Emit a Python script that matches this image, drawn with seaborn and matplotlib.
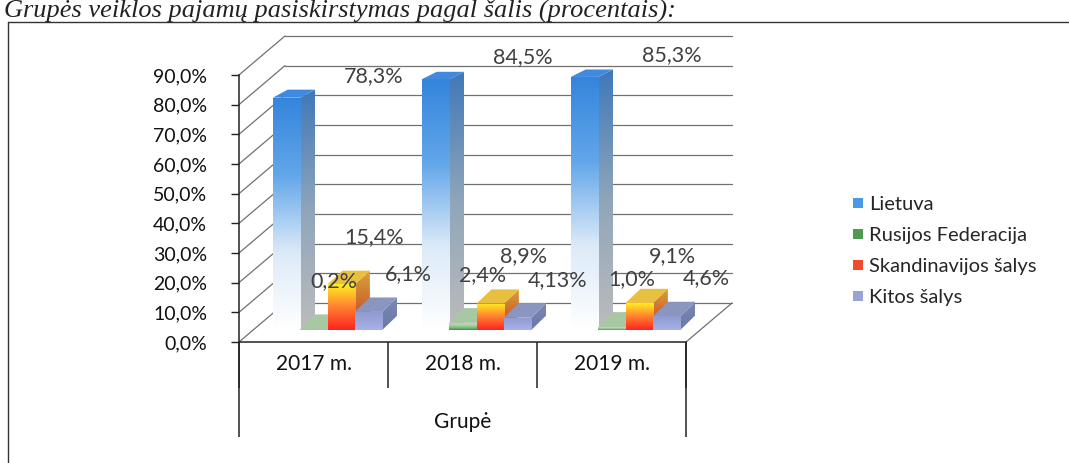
import numpy as np
import pandas as pd
import matplotlib
matplotlib.use('Agg')
import matplotlib.pyplot as plt
from matplotlib.colors import LinearSegmentedColormap
from matplotlib.patches import Polygon, Patch
from matplotlib.lines import Line2D
from matplotlib.ticker import FuncFormatter
import seaborn as sns


TITLE = 'Grupės veiklos pajamų pasiskirstymas pagal šalis (procentais):'
GROUP_LABEL = 'Grupė'
YEARS = ['2017 m.', '2018 m.', '2019 m.']
COUNTRIES = ['Lietuva', 'Rusijos Federacija', 'Skandinavijos šalys', 'Kitos šalys']
LIETUVA = [78.3, 84.5, 85.3]
RUSIJA = [0.2, 2.4, 1.0]
SKANDINAVIJA = [15.4, 8.9, 9.1]
KITOS = [6.1, 4.13, 4.6]
Y_TICKS = [0, 10, 20, 30, 40, 50, 60, 70, 80, 90]

# look of each series: front gradient (bottom -> top), side gradient, top colour, legend colour
FRONT = [['#ffffff', '#dceaf8', '#62a6ea', '#3385dc'],
         ['#2f9a3a', '#86bf86', '#b9cfb3', '#c3d6bd'],
         ['#ff2222', '#ff8030', '#ffee22'],
         ['#a8b0e8', '#8e9ad0']]
SIDE = [['#bcbcbc', '#8fa5ba', '#3f78b8'],
        ['#9ab896', '#a6c2a2'],
        ['#c43a2a', '#d8a438'],
        ['#6a78a8', '#7888b2']]
TOP = ['#3f8ae0', '#a8c8a4', '#e8c040', '#8a96c0']
LEGEND_COLORS = ['#4a98e8', '#4e9a50', '#f24a2a', '#9aa2d6']
LABEL_OFFSETS = [(87, 22), (20, 48), (33, 47), (40, 38)]  # px from bar top

W_PX, H_PX = 1069, 463
PX_X = 149.0      # pixels per category
PX_Y = 2.967      # pixels per percent


def fmt_value(v):
    s = f'{v:.2f}'.rstrip('0')
    if s.endswith('.'):
        s += '0'
    return s.replace('.', ',') + '%'


def gradient(ax, clip, extent, colors, z):
    cmap = LinearSegmentedColormap.from_list('g', colors)
    grad = np.linspace(0, 1, 256).reshape(-1, 1)
    im = ax.imshow(grad, cmap=cmap, extent=extent, origin='lower',
                   aspect='auto', interpolation='bilinear', zorder=z)
    im.set_clip_path(clip)


def main():
    sns.set_style('white')
    plt.rcParams['font.family'] = ['Lato', 'DejaVu Sans']

    rows = []
    for country, vals in zip(COUNTRIES, [LIETUVA, RUSIJA, SKANDINAVIJA, KITOS]):
        for year, v in zip(YEARS, vals):
            rows.append({'Metai': year, 'Šalis': country, 'Procentai': v})
    df = pd.DataFrame(rows)

    fig = plt.figure(figsize=(W_PX / 100, H_PX / 100), dpi=100)
    x_lim = (-0.5, 2.85)
    y_lim = (0, 105)
    left = 239 / W_PX
    bottom = (H_PX - 342) / H_PX
    ax = fig.add_axes([left, bottom, (x_lim[1] - x_lim[0]) * PX_X / W_PX,
                       (y_lim[1] - y_lim[0]) * PX_Y / H_PX])

    sns.barplot(data=df, x='Metai', y='Procentai', hue='Šalis', order=YEARS,
                hue_order=COUNTRIES, width=0.735, errorbar=None, legend=False,
                palette=LEGEND_COLORS, ax=ax)

    # pseudo 3D geometry (data units)
    wdx, wdy = 46 / PX_X, 39 / PX_Y     # depth of the floor / walls
    sx, sy = 14 / PX_X, 12 / PX_Y       # bars stand a bit inside the floor
    bdx = 15 / PX_X

    # walls and grid
    for t in Y_TICKS:
        ax.plot([-0.5 + wdx, 2.5 + wdx], [t + wdy, t + wdy], color='#707070', lw=0.9, zorder=1)
        ax.plot([-0.5, -0.5 + wdx], [t, t + wdy], color='#707070', lw=0.9, zorder=1)
    ax.plot([2.5, 2.5 + wdx], [0, wdy], color='#707070', lw=0.9, zorder=1)

    for i, bars in enumerate(ax.containers):
        for j, p in enumerate(bars.patches):
            h = p.get_height()
            p.set_x(p.get_x() + sx)
            p.set_y(sy)
            p.set_facecolor('none')
            p.set_edgecolor('none')
            x0, w = p.get_x(), p.get_width()
            y0, top = sy, sy + h
            bdy = (15 - 8 * h / 90) / PX_Y
            z = 3 + i * 3
            side = Polygon([(x0 + w, y0), (x0 + w, top), (x0 + w + bdx, top + bdy),
                            (x0 + w + bdx, y0 + bdy)], closed=True, fc='none', ec='none')
            ax.add_patch(side)
            gradient(ax, side, [x0 + w, x0 + w + bdx, y0, top + bdy], SIDE[i], z)
            ax.add_patch(Polygon([(x0, top), (x0 + w, top), (x0 + w + bdx, top + bdy),
                                  (x0 + bdx, top + bdy)], closed=True,
                                 fc=TOP[i], ec='none', zorder=z + 1))
            gradient(ax, p, [x0, x0 + w, y0, top], FRONT[i], z + 2)

            ox, oy = LABEL_OFFSETS[i]
            ax.annotate(fmt_value(h), xy=(x0 + w / 2, top), xytext=(ox * 0.72, oy * 0.72),
                        textcoords='offset points', ha='center', va='center',
                        fontsize=15.5, color='#404040', zorder=30, annotation_clip=False)

    ax.set_xlim(*x_lim)
    ax.set_ylim(*y_lim)
    ax.set_xlabel('')
    ax.set_ylabel('')
    for s in ['top', 'right']:
        ax.spines[s].set_visible(False)
    ax.spines['left'].set_bounds(0, 90)
    ax.spines['bottom'].set_bounds(-0.5, 2.5)
    for s in ['left', 'bottom']:
        ax.spines[s].set_color('#222222')
        ax.spines[s].set_linewidth(1.1)

    ax.set_yticks(Y_TICKS)
    ax.yaxis.set_major_formatter(FuncFormatter(lambda v, _: f'{v:.1f}'.replace('.', ',') + '%'))
    ax.tick_params(axis='y', length=6, width=1, color='#222222', pad=17, labelsize=14,
                   labelcolor='#111111', left=True)
    ax.set_xticks(range(len(YEARS)), YEARS)
    ax.tick_params(axis='x', which='major', length=0, pad=9, labelsize=15, labelcolor='#111111')
    ax.set_xticks([-0.5, 0.5, 1.5, 2.5], minor=True)
    ax.tick_params(axis='x', which='minor', length=46 * 0.72, width=1.1, color='#222222',
                   direction='out', bottom=True)
    ax.vlines([-0.5, 2.5], -95 / (105 * PX_Y), 0, transform=ax.get_xaxis_transform(),
              color='#222222', lw=1.1, clip_on=False)
    ax.text(1.0, -80 / (105 * PX_Y), GROUP_LABEL, transform=ax.get_xaxis_transform(),
            ha='center', va='center', fontsize=15, color='#111111')

    handles = [Patch(facecolor=c, edgecolor='none') for c in LEGEND_COLORS]
    fig.legend(handles, COUNTRIES, loc='center left', bbox_to_anchor=(835 / W_PX, 1 - 251 / H_PX),
               frameon=False, fontsize=14.5, handlelength=0.5, handleheight=0.4,
               handletextpad=0.3, labelspacing=0.7)

    # page frame and title of the scanned document
    fig.add_artist(Line2D([8 / W_PX, 1], [1 - 22 / H_PX] * 2, transform=fig.transFigure,
                          color='#333333', lw=1))
    fig.add_artist(Line2D([8 / W_PX] * 2, [0, 1 - 22 / H_PX], transform=fig.transFigure,
                          color='#333333', lw=1))
    fig.text(4 / W_PX, 1 - 18 / H_PX, TITLE, fontsize=19, fontstyle='italic',
             family=['Liberation Serif', 'DejaVu Serif'], va='baseline', color='#222222')

    fig.savefig('out.png', dpi=100)


if __name__ == '__main__':
    main()
